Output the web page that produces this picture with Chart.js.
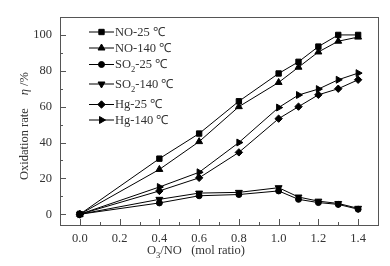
<!DOCTYPE html>
<html>
<head>
<meta charset="utf-8">
<script src="https://cdn.jsdelivr.net/npm/chart.js@4"></script>
<style>
  html, body { margin: 0; padding: 0; background: #fff; }
  #wrap { width: 390px; height: 266px; position: relative; }
</style>
</head>
<body>
<div id="wrap"><canvas id="chart"></canvas></div>
<script>
// O3/NO mol ratio
const ratios = [0, 0.4, 0.6, 0.8, 1.0, 1.1, 1.2, 1.3, 1.4];

// oxidation rate, %
const no25 = [0, 31, 45, 63, 78.5, 85, 93.5, 100, 100];
const no140 = [0, 25, 40.5, 60, 73.5, 82, 90.5, 96.5, 98.8];
const so2_25 = [0, 6.3, 10.3, 11, 13, 8.3, 6.5, 5.5, 2.8];
const so2_140 = [0, 8.3, 11.8, 12.2, 14.8, 9.6, 7.3, 6, 3.3];
const hg25 = [0, 13, 20.3, 34.5, 53.3, 60, 66.6, 70, 75];
const hg140 = [0, 15.2, 23.4, 40, 59.5, 66.5, 69.8, 75, 78.7];

// legend names: [main, subscript, rest]
const names = [
  ['NO', '', '-25 \u2103'],
  ['NO', '', '-140 \u2103'],
  ['SO', '2', '-25 \u2103'],
  ['SO', '2', '-140 \u2103'],
  ['Hg', '', '-25 \u2103'],
  ['Hg', '', '-140 \u2103']
];

const xTicks = [0, 0.2, 0.4, 0.6, 0.8, 1.0, 1.2, 1.4];
const xMinor = [0.1, 0.3, 0.5, 0.7, 0.9, 1.1, 1.3];
const yTicks = [0, 20, 40, 60, 80, 100];
const yMinor = [10, 30, 50, 70, 90];

const SERIF = '"Liberation Serif", "Times New Roman", serif';
const TXT = '#333';

const markers = [
  { style: 'rect', rot: 0, r: 3.8 },
  { style: 'triangle', rot: 0, r: 4 },
  { style: 'circle', rot: 0, r: 3 },
  { style: 'triangle', rot: 180, r: 4 },
  { style: 'rectRot', rot: 0, r: 3.7 },
  { style: 'triangle', rot: 90, r: 4 }
];

const series = [no25, no140, so2_25, so2_140, hg25, hg140];

const datasets = series.map(function (vals, i) {
  return {
    label: names[i].join(''),
    data: vals.map(function (v, j) { return { x: ratios[j], y: v }; }),
    borderColor: '#000',
    backgroundColor: '#000',
    borderWidth: 1,
    pointStyle: markers[i].style,
    pointRotation: markers[i].rot,
    pointRadius: markers[i].r,
    pointBorderWidth: 1,
    tension: 0
  };
});

// frame, inward ticks, legend and titles
const decor = {
  id: 'decor',
  afterDraw(chart) {
    const ctx = chart.ctx;
    const a = chart.chartArea;
    const xs = chart.scales.x, ys = chart.scales.y;
    ctx.save();
    ctx.strokeStyle = '#555';
    ctx.lineWidth = 1;
    ctx.strokeRect(Math.round(a.left) + 0.5, Math.round(a.top) + 0.5,
      Math.round(a.right - a.left), Math.round(a.bottom - a.top));

    ctx.beginPath();
    xTicks.forEach(function (v) {
      const px = Math.round(xs.getPixelForValue(v)) + 0.5;
      ctx.moveTo(px, a.bottom); ctx.lineTo(px, a.bottom - 6);
    });
    xMinor.forEach(function (v) {
      const px = Math.round(xs.getPixelForValue(v)) + 0.5;
      ctx.moveTo(px, a.bottom); ctx.lineTo(px, a.bottom - 3);
    });
    yTicks.forEach(function (v) {
      const py = Math.round(ys.getPixelForValue(v)) + 0.5;
      ctx.moveTo(a.left, py); ctx.lineTo(a.left + 6, py);
    });
    yMinor.forEach(function (v) {
      const py = Math.round(ys.getPixelForValue(v)) + 0.5;
      ctx.moveTo(a.left, py); ctx.lineTo(a.left + 3, py);
    });
    ctx.stroke();

    // legend
    const rowY = [31.5, 47.5, 64, 83.5, 104, 119.5];
    const lx0 = a.left + 29, lx1 = a.left + 54;
    ctx.textBaseline = 'middle';
    ctx.textAlign = 'left';
    names.forEach(function (n, i) {
      const y = rowY[i];
      ctx.strokeStyle = '#000';
      ctx.beginPath();
      ctx.moveTo(lx0, y + 0.5); ctx.lineTo(lx1, y + 0.5);
      ctx.stroke();
      ctx.fillStyle = '#000';
      Chart.helpers.drawPoint(ctx, {
        pointStyle: markers[i].style, rotation: markers[i].rot,
        radius: markers[i].r, borderWidth: 1
      }, (lx0 + lx1) / 2, y + 0.5);
      ctx.fillStyle = TXT;
      ctx.font = '12.5px ' + SERIF;
      let tx = lx1 + 1;
      ctx.fillText(n[0], tx, y + 1);
      tx += ctx.measureText(n[0]).width;
      if (n[1]) {
        ctx.font = '8.5px ' + SERIF;
        ctx.fillText(n[1], tx, y + 6);
        tx += ctx.measureText(n[1]).width;
        ctx.font = '12.5px ' + SERIF;
      }
      ctx.fillText(n[2], tx, y + 1);
    });

    // x title
    const ty = a.bottom + 26;
    ctx.fillStyle = TXT;
    ctx.font = '12.5px ' + SERIF;
    let tx = a.left + 87;
    ctx.fillText('O', tx, ty);
    tx += ctx.measureText('O').width;
    ctx.font = '8.5px ' + SERIF;
    ctx.fillText('3', tx, ty + 5);
    tx += ctx.measureText('3').width;
    ctx.font = '12.5px ' + SERIF;
    ctx.fillText('/NO   (mol ratio)', tx, ty);

    // y title
    ctx.translate(25, 180);
    ctx.rotate(-Math.PI / 2);
    ctx.font = '12.5px ' + SERIF;
    let yx = 0;
    ctx.fillText('Oxidation rate', yx, 0);
    yx += ctx.measureText('Oxidation rate').width + 13;
    ctx.font = 'italic 12.5px ' + SERIF;
    ctx.fillText('\u03b7', yx, 0);
    yx += ctx.measureText('\u03b7').width + 3;
    ctx.font = '12.5px ' + SERIF;
    ctx.fillText('/%', yx, 0);
    ctx.restore();
  }
};

new Chart(document.getElementById('chart'), {
  type: 'line',
  data: { datasets: datasets },
  options: {
    responsive: true,
    maintainAspectRatio: false,
    animation: false,
    layout: { padding: { top: 17, right: 12, left: 0, bottom: 0 } },
    plugins: { legend: { display: false }, tooltip: { enabled: false } },
    scales: {
      x: {
        type: 'linear',
        min: -0.1,
        max: 1.5,
        grid: { display: false, drawTicks: false },
        border: { display: false },
        afterBuildTicks(s) { s.ticks = xTicks.map(function (v) { return { value: v }; }); },
        afterFit(s) { s.height = 41; },
        ticks: {
          padding: 6,
          color: TXT,
          font: { family: SERIF, size: 12.5 },
          callback: function (v) { return v.toFixed(1); }
        }
      },
      y: {
        min: -6,
        max: 110,
        grid: { display: false, drawTicks: false },
        border: { display: false },
        afterBuildTicks(s) { s.ticks = yTicks.map(function (v) { return { value: v }; }); },
        afterFit(s) { s.width = 60; },
        ticks: {
          padding: 8,
          color: TXT,
          font: { family: SERIF, size: 12.5 }
        }
      }
    }
  },
  plugins: [decor]
});
</script>
</body>
</html>
